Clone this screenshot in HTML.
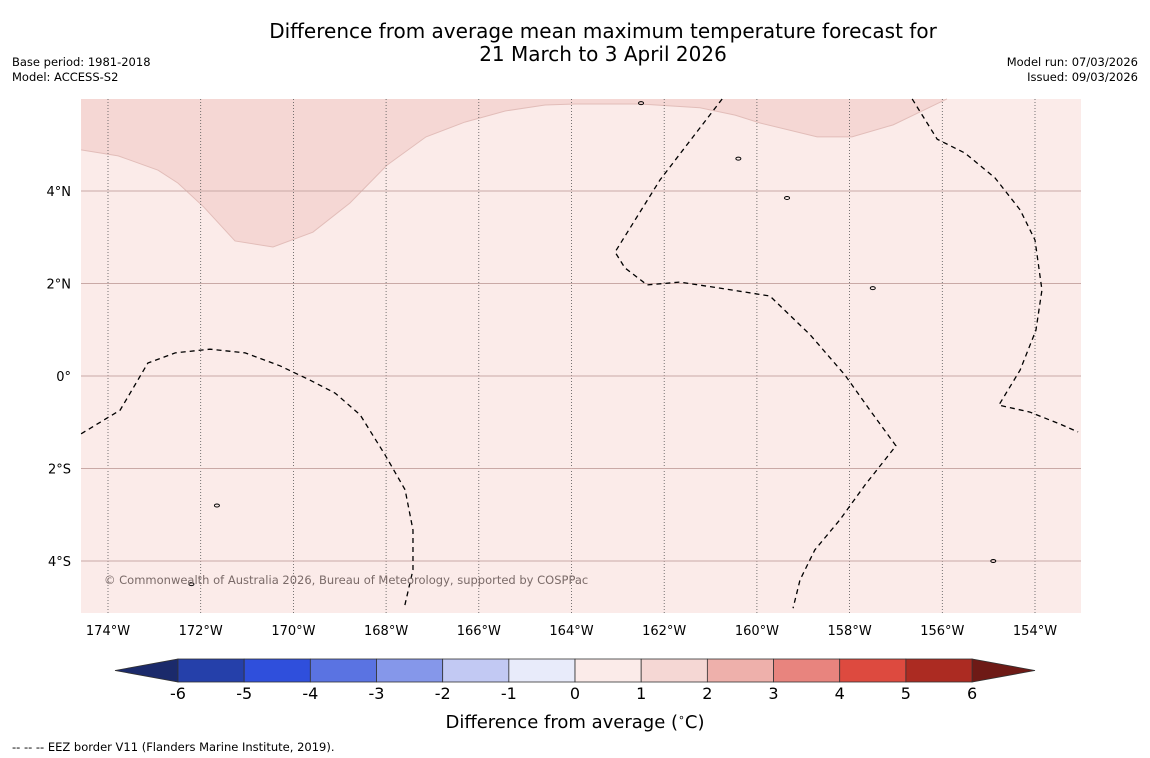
<!DOCTYPE html>
<html><head><meta charset="utf-8"><style>
body{margin:0;background:#fff;width:1150px;height:758px;overflow:hidden;font-family:"DejaVu Sans","Liberation Sans",sans-serif}
svg{display:block}
</style></head><body>
<svg id="c" width="1150" height="758" xmlns="http://www.w3.org/2000/svg">
<text x="603" y="38" text-anchor="middle" font-size="20">Difference from average mean maximum temperature forecast for</text>
<text x="603" y="61" text-anchor="middle" font-size="20">21 March to 3 April 2026</text>
<text x="12" y="66" font-size="11.5">Base period: 1981-2018</text>
<text x="12" y="81" font-size="11.5">Model: ACCESS-S2</text>
<text x="1138" y="66" font-size="11.5" text-anchor="end">Model run: 07/03/2026</text>
<text x="1138" y="81" font-size="11.5" text-anchor="end">Issued: 09/03/2026</text>
<g id="map"></g>
<g id="cbar"></g>
<text x="575" y="728" text-anchor="middle" font-size="18">Difference from average (<tspan font-size="11" dy="-7">∘</tspan><tspan dy="7">C)</tspan></text>
<text x="12" y="751" font-size="11.5">--  --  -- EEZ border V11 (Flanders Marine Institute, 2019).</text>
</svg>
<script>
const lonTicks=[-174,-172,-170,-168,-166,-164,-162,-160,-158,-156,-154];
const latTicks=[4,2,0,-2,-4];
const warmLon=[-174.58,-173.78,-172.92,-172.49,-171.93,-171.26,-170.44,-169.58,-168.78,-167.98,-167.14,-166.30,-165.43,-164.57,-163.92,-162.52,-161.23,-160.47,-159.93,-158.70,-157.95,-157.06,-156.48,-155.90];
const warmLat=[4.89,4.76,4.45,4.17,3.65,2.92,2.79,3.11,3.74,4.56,5.17,5.49,5.73,5.86,5.88,5.88,5.80,5.64,5.47,5.17,5.17,5.43,5.71,5.99];
const eez1Lon=[-174.58,-173.74,-173.14,-172.55,-171.80,-171.04,-170.29,-169.64,-169.10,-168.56,-168.02,-167.59,-167.42,-167.42,-167.61];
const eez1Lat=[-1.25,-0.74,0.28,0.50,0.58,0.50,0.22,-0.09,-0.37,-0.84,-1.71,-2.46,-3.33,-4.19,-5.02];
const eez2Lon=[-160.75,-162.09,-163.06,-162.85,-162.37,-161.66,-160.80,-159.72,-158.85,-158.10,-157.56,-157.00,-157.67,-158.21,-158.75,-159.07,-159.22];
const eez2Lat=[5.99,4.24,2.68,2.34,1.97,2.03,1.90,1.73,0.89,0.02,-0.74,-1.51,-2.36,-3.11,-3.76,-4.41,-5.02];
const eez3Lon=[-156.65,-156.11,-155.51,-154.86,-154.32,-154.00,-153.85,-153.98,-154.32,-154.78,-154.11,-153.46,-153.07];
const eez3Lat=[5.99,5.12,4.82,4.28,3.59,2.94,1.86,0.99,0.13,-0.63,-0.78,-1.04,-1.21];
const islandLon=[-159.35,-157.5,-171.65,-172.2,-154.9,-160.4,-162.5];
const islandLat=[3.85,1.9,-2.8,-4.5,-4.0,4.7,5.9];
const cbLevels=[-6,-5,-4,-3,-2,-1,0,1,2,3,4,5,6];
const cbColors=["#2540aa","#2f4fdc","#5a73e2","#8597ea","#c2c9f3","#e8ebfa","#fbebe9","#f5d7d4","#eeb0ab","#e8847e","#dd4a3f","#ac2b22"];

const NS="http://www.w3.org/2000/svg";
const X0=81,X1=1081,Y0=99,Y1=613;
const xs=lon=>108+(lon+174)*46.35;
const ys=lat=>376-lat*46.25;
function mk(tag,attrs,parent){const e=document.createElementNS(NS,tag);for(const k in attrs)e.setAttribute(k,attrs[k]);parent.appendChild(e);return e;}
const map=document.getElementById('map');
let r=mk('rect',{x:X0,y:Y0,width:X1-X0,height:Y1-Y0,fill:'#fbebe9'},map);


let cpts=warmLon.map((l,i)=>xs(l)+','+ys(warmLat[i])).join(' ');
let wp=mk('polygon',{points:X0+','+Y0+' '+cpts+' '+X1+','+Y0,fill:'#f5d7d4'},map);


let wl=mk('polyline',{points:cpts,fill:'none',stroke:'#e2bdb9','stroke-width':1},map);


lonTicks.forEach(l=>{const x=xs(l);
 let g=mk('line',{x1:x,x2:x,y1:Y0,y2:Y1,stroke:'#555','stroke-width':0.8,'stroke-dasharray':'1,2'},map);
 
 
 let t=mk('text',{x:x,y:635,'text-anchor':'middle','font-size':13},map);t.textContent=Math.abs(l)+'°W';
 
 
});
latTicks.forEach(l=>{const y=ys(l);
 let g=mk('line',{x1:X0,x2:X1,y1:y,y2:y,stroke:'#c9a9a6','stroke-width':1},map);
 
 
 let t=mk('text',{x:71,y:y+5,'text-anchor':'end','font-size':13},map);t.textContent=l===0?'0°':Math.abs(l)+'°'+(l>0?'N':'S');
 
 
});
[[eez1Lon,eez1Lat],[eez2Lon,eez2Lat],[eez3Lon,eez3Lat]].forEach(([lo,la])=>{
 let p=mk('polyline',{points:lo.map((l,i)=>xs(l)+','+ys(la[i])).join(' '),fill:'none',stroke:'#000','stroke-width':1.3,'stroke-dasharray':'5,4'},map);
 
 
});
islandLon.forEach((l,i)=>{
 let e=mk('ellipse',{cx:xs(l),cy:ys(islandLat[i]),rx:2.5,ry:1.5,fill:'none',stroke:'#000','stroke-width':1},map);
 
 
});
let cp=mk('text',{x:104,y:584,'font-size':11.5,fill:'#7a6a68'},map);
cp.textContent='© Commonwealth of Australia 2026, Bureau of Meteorology, supported by COSPPac';



const cb=document.getElementById('cbar');
const cx=v=>178+(v+6)*66.17;const CY0=659,CY1=682;
let t1=mk('polygon',{points:`115,670.5 ${cx(-6)},${CY0} ${cx(-6)},${CY1}`,fill:'#1b2a6b',stroke:'#333','stroke-width':0.8},cb);


let t2=mk('polygon',{points:`1035,670.5 ${cx(6)},${CY0} ${cx(6)},${CY1}`,fill:'#6e1a16',stroke:'#333','stroke-width':0.8},cb);


cbColors.forEach((c,i)=>{
 let b=mk('rect',{x:cx(cbLevels[i]),y:CY0,width:cx(cbLevels[i+1])-cx(cbLevels[i]),height:CY1-CY0,fill:c,stroke:'#333','stroke-width':0.8},cb);
 
 
});
cbLevels.forEach(v=>{
 let t=mk('text',{x:cx(v),y:699,'text-anchor':'middle','font-size':16},cb);t.textContent=v;
 
 
});
</script>
</body></html>
